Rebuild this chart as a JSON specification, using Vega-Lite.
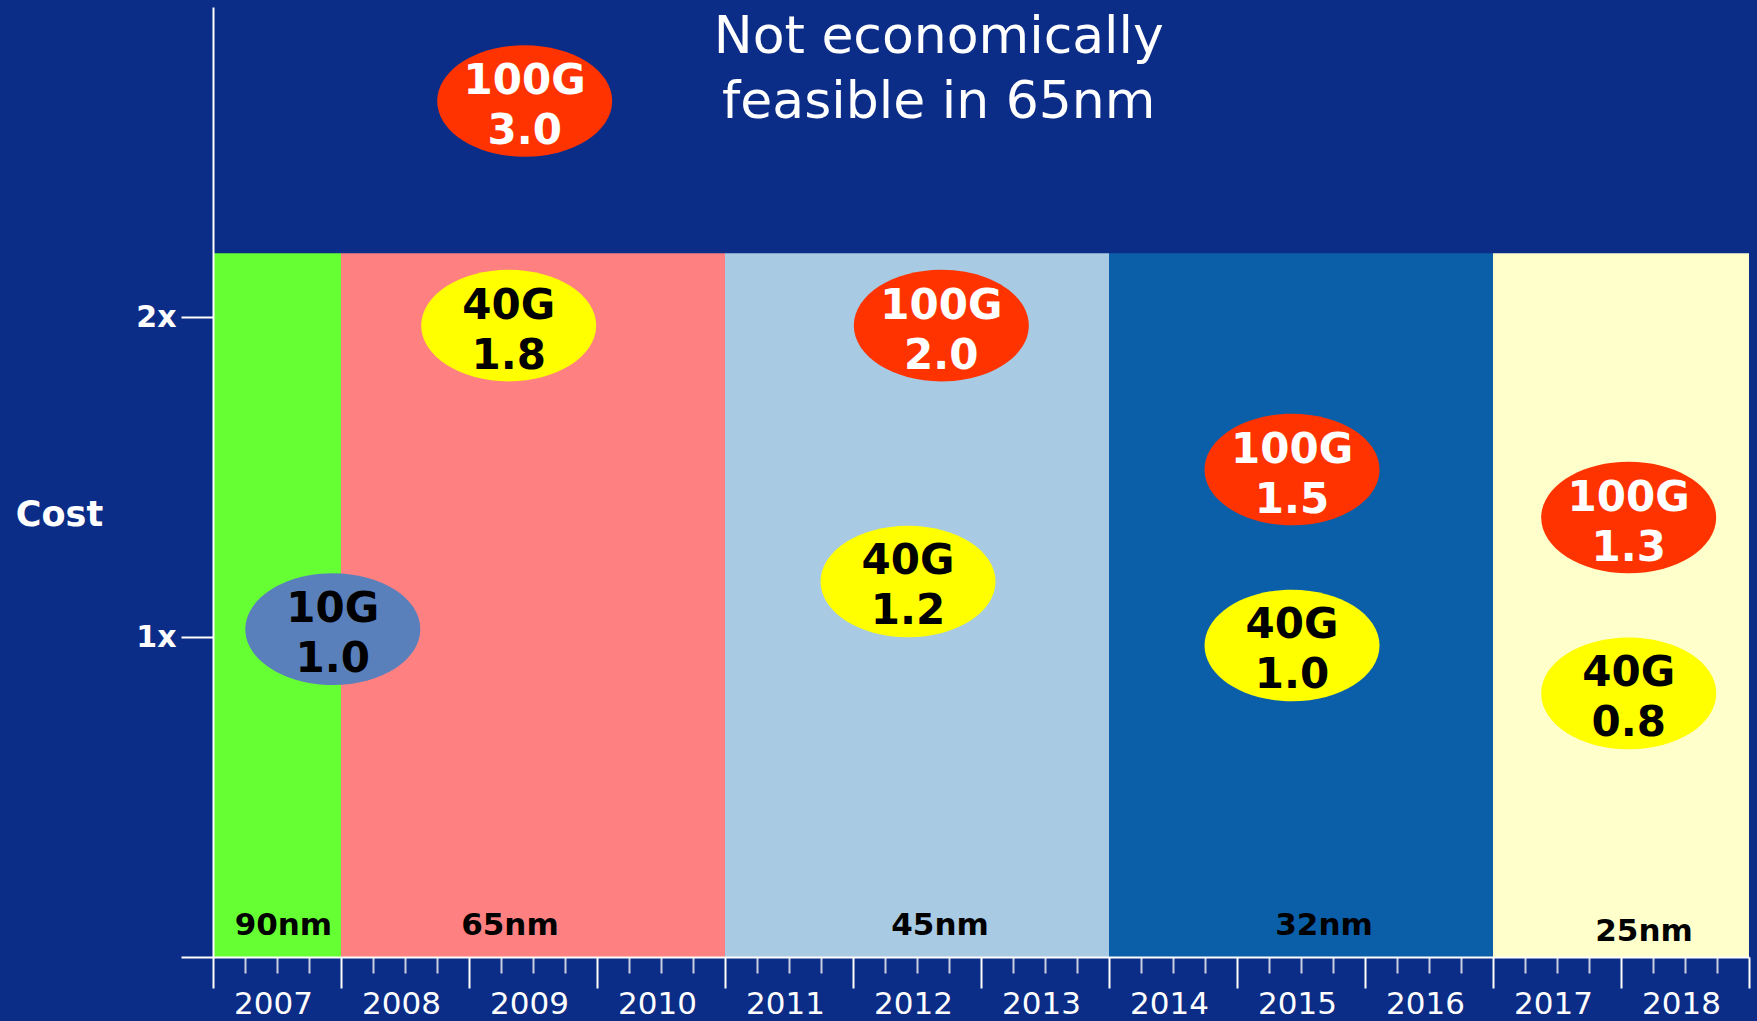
{
  "$schema": "https://vega.github.io/schema/vega-lite/v6.json",
  "width": 1536,
  "height": 950,
  "autosize": "none",
  "padding": {"left": 213, "top": 7, "right": 8, "bottom": 64},
  "background": "#0c2d87",
  "config": {"view": {"stroke": null}, "font": "DejaVu Sans"},
  "datasets": {
    "bands": [
      {"node": "90nm", "xv": 2007, "xe": 2008, "yv": 0, "ye": 2.2},
      {"node": "65nm", "xv": 2008, "xe": 2011, "yv": 0, "ye": 2.2},
      {"node": "45nm", "xv": 2011, "xe": 2014, "yv": 0, "ye": 2.2},
      {"node": "32nm", "xv": 2014, "xe": 2017, "yv": 0, "ye": 2.2},
      {"node": "25nm", "xv": 2017, "xe": 2019, "yv": 0, "ye": 2.2}
    ],
    "nodeLabels": [
      {"node": "90nm", "xv": 2007.55, "yv": 0.098},
      {"node": "65nm", "xv": 2009.32, "yv": 0.098},
      {"node": "45nm", "xv": 2012.68, "yv": 0.098},
      {"node": "32nm", "xv": 2015.68, "yv": 0.098},
      {"node": "25nm", "xv": 2018.18, "yv": 0.078}
    ],
    "chips": [
      {"type": "10G", "label": "10G\n1.0", "xv": 2007.936, "yv": 1.025},
      {"type": "100G", "label": "100G\n3.0", "xv": 2009.435, "yv": 2.676},
      {"type": "40G", "label": "40G\n1.8", "xv": 2009.31, "yv": 1.974},
      {"type": "100G", "label": "100G\n2.0", "xv": 2012.69, "yv": 1.974},
      {"type": "40G", "label": "40G\n1.2", "xv": 2012.43, "yv": 1.174},
      {"type": "100G", "label": "100G\n1.5", "xv": 2015.43, "yv": 1.524},
      {"type": "40G", "label": "40G\n1.0", "xv": 2015.43, "yv": 0.974},
      {"type": "100G", "label": "100G\n1.3", "xv": 2018.06, "yv": 1.374},
      {"type": "40G", "label": "40G\n0.8", "xv": 2018.06, "yv": 0.824}
    ],
    "note": [
      {"text": "Not economically\nfeasible in 65nm", "xv": 2012.67, "yv": 2.774}
    ]
  },
  "encoding": {
    "x": {
      "field": "xv",
      "type": "quantitative",
      "scale": {"domain": [2007, 2019], "nice": false, "zero": false},
      "axis": {
        "values": [2007, 2007.25, 2007.5, 2007.75, 2008, 2008.25, 2008.5, 2008.75, 2009, 2009.25, 2009.5, 2009.75, 2010, 2010.25, 2010.5, 2010.75, 2011, 2011.25, 2011.5, 2011.75, 2012, 2012.25, 2012.5, 2012.75, 2013, 2013.25, 2013.5, 2013.75, 2014, 2014.25, 2014.5, 2014.75, 2015, 2015.25, 2015.5, 2015.75, 2016, 2016.25, 2016.5, 2016.75, 2017, 2017.25, 2017.5, 2017.75, 2018, 2018.25, 2018.5, 2018.75, 2019],
        "title": null,
        "grid": false,
        "zindex": 1,
        "domainColor": "#ffffff",
        "domainWidth": 2,
        "tickColor": {"condition": {"test": "datum.value % 1 === 0", "value": "#ffffff"}, "value": "#c9cfe0"},
        "tickSize": {"condition": {"test": "datum.value % 1 === 0", "value": 31}, "value": 16},
        "tickWidth": 2,
        "labelExpr": "datum.value % 1 === 0.5 ? format(floor(datum.value), 'd') : ''",
        "labelFont": "DejaVu Sans",
        "labelFontSize": 31,
        "labelColor": "#ffffff",
        "labelBaseline": "top",
        "labelPadding": 16,
        "labelOffset": -4,
        "labelFlush": false,
        "labelOverlap": false,
        "labelBound": false
      }
    },
    "y": {
      "field": "yv",
      "type": "quantitative",
      "scale": {"domain": [0, 2.97], "nice": false, "zero": false},
      "axis": {
        "values": [0, 1, 2],
        "title": "Cost",
        "titleAngle": 0,
        "titleX": -154,
        "titleY": 507,
        "titleAlign": "center",
        "titleBaseline": "middle",
        "titleFont": "DejaVu Sans",
        "titleFontSize": 35,
        "titleFontWeight": "bold",
        "titleColor": "#ffffff",
        "labelExpr": "datum.value === 0 ? '' : datum.value + 'x'",
        "labelFont": "DejaVu Sans",
        "labelFontSize": 30,
        "labelFontWeight": "bold",
        "labelColor": "#ffffff",
        "labelPadding": 5,
        "tickSize": 32,
        "tickColor": "#ffffff",
        "tickWidth": 2,
        "domainColor": "#ffffff",
        "domainWidth": 2,
        "grid": false,
        "zindex": 1
      }
    }
  },
  "layer": [
    {
      "data": {"name": "bands"},
      "mark": {"type": "rect"},
      "encoding": {
        "x2": {"field": "xe"},
        "y2": {"field": "ye"},
        "color": {
          "field": "node",
          "type": "nominal",
          "scale": {"domain": ["90nm", "65nm", "45nm", "32nm", "25nm"], "range": ["#66ff33", "#ff8080", "#a8cae2", "#0a5fa8", "#ffffcc"]},
          "legend": null
        }
      }
    },
    {
      "data": {"name": "chips"},
      "mark": {"type": "point", "filled": true, "opacity": 1, "strokeWidth": 0, "size": 30625, "shape": "M-1,0A1,0.638,0,1,0,1,0A1,0.638,0,1,0,-1,0Z"},
      "encoding": {
        "fill": {
          "field": "type",
          "type": "nominal",
          "scale": {"domain": ["100G", "40G", "10G"], "range": ["#ff3300", "#ffff00", "#5a80bc"]},
          "legend": null
        }
      }
    },
    {
      "data": {"name": "chips"},
      "mark": {"type": "text", "font": "DejaVu Sans", "fontSize": 42, "fontWeight": "bold", "lineBreak": "\n", "lineHeight": 50, "align": "center", "baseline": "middle", "dy": -20},
      "encoding": {
        "text": {"field": "label"},
        "color": {
          "field": "type",
          "type": "nominal",
          "scale": {"domain": ["100G", "40G", "10G"], "range": ["#ffffff", "#000000", "#000000"]},
          "legend": null
        }
      }
    },
    {
      "data": {"name": "note"},
      "mark": {"type": "text", "font": "DejaVu Sans", "fontSize": 52, "lineBreak": "\n", "lineHeight": 65, "align": "center", "baseline": "middle", "dy": -33, "color": "#ffffff"},
      "encoding": {
        "text": {"field": "text"}
      }
    },
    {
      "data": {"name": "nodeLabels"},
      "mark": {"type": "text", "font": "DejaVu Sans", "fontSize": 31, "fontWeight": "bold", "align": "center", "baseline": "middle", "color": "#000000"},
      "encoding": {
        "text": {"field": "node"}
      }
    }
  ],
  "resolve": {"scale": {"color": "independent", "fill": "independent"}}
}
